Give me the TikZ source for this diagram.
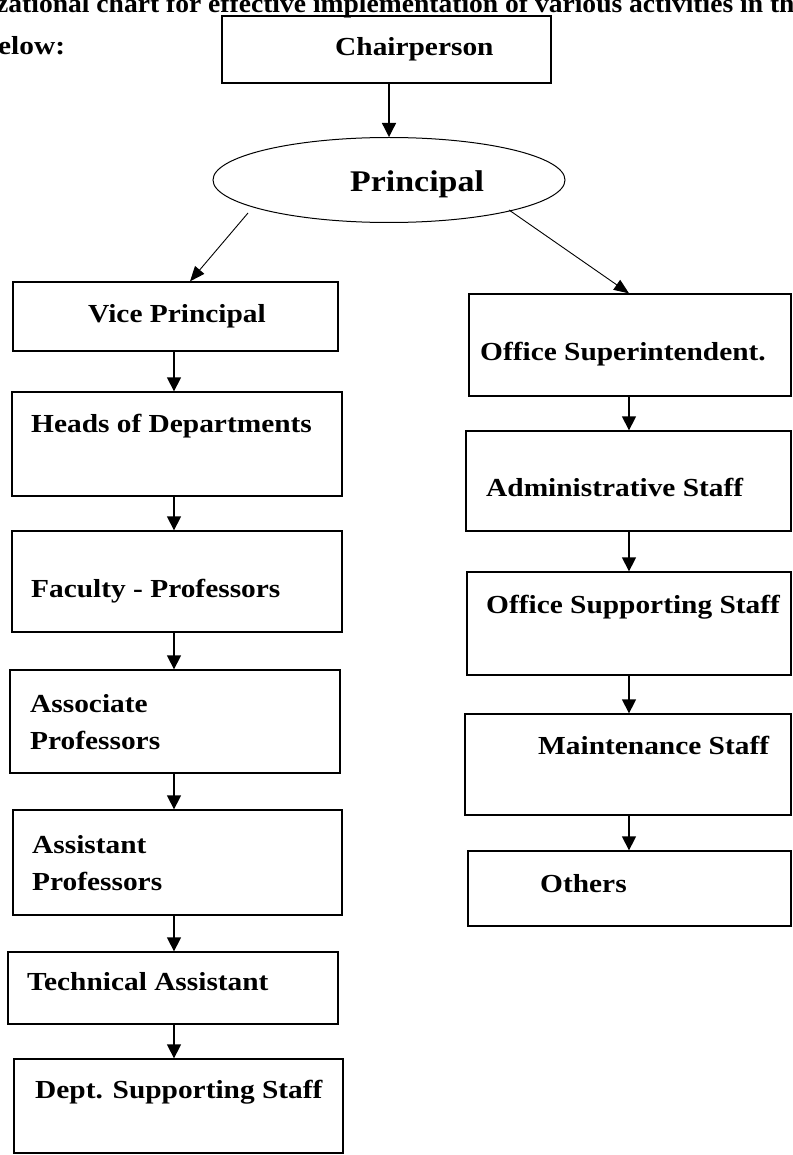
\documentclass[tikz,border=0pt]{standalone}
\usepackage{fontspec}
\setmainfont{Liberation Serif}[FakeStretch=1.13]
\newfontfamily\headfont{Liberation Serif}[FakeStretch=1.06]
\usetikzlibrary{arrows.meta,shapes.geometric}
\tikzset{
  box/.style={draw, rectangle, line width=1.3pt, inner sep=0pt},
  oval/.style={draw, ellipse, line width=1pt, inner sep=0pt},
  lbl/.style={anchor=base west, inner sep=0pt, font=\fontsize{26}{30}\selectfont\bfseries},
  arr/.style={line width=1.3pt, -{Triangle[length=14pt,width=14pt]}},
  darr/.style={line width=0.9pt, -{Triangle[length=15pt,width=12pt]}}
}
\begin{document}
\begin{tikzpicture}[x=1pt,y=-1pt]
\useasboundingbox (0,0) rectangle (792,1155);
\clip (0,0) rectangle (792,1155);
% heading fragments
\node[lbl, font=\headfont\fontsize{26}{30}\selectfont\bfseries] (title) at (-4,13) {zational chart for effective implementation of various activities in th};
\node[lbl] (below) at (-2,55) {elow:};
% boxes
\node[box, minimum width=329pt, minimum height=67pt] (chair) at (386.5,49.5) {};
\node[oval, minimum width=352pt, minimum height=85pt] (prin) at (389,180) {};
\node[box, minimum width=325pt, minimum height=69pt] (vice) at (175.5,316.5) {};
\node[box, minimum width=330pt, minimum height=104pt] (heads) at (177,444) {};
\node[box, minimum width=330pt, minimum height=101pt] (fac) at (177,581.5) {};
\node[box, minimum width=330pt, minimum height=103pt] (assoc) at (175,721.5) {};
\node[box, minimum width=329pt, minimum height=105pt] (asst) at (177.5,862.5) {};
\node[box, minimum width=330pt, minimum height=72pt] (tech) at (173,988) {};
\node[box, minimum width=329pt, minimum height=94pt] (dept) at (178.5,1106) {};
\node[box, minimum width=322pt, minimum height=102pt] (osup) at (630,345) {};
\node[box, minimum width=325pt, minimum height=100pt] (admin) at (628.5,481) {};
\node[box, minimum width=324pt, minimum height=103pt] (offsup) at (629,623.5) {};
\node[box, minimum width=326pt, minimum height=101pt] (maint) at (628,764.5) {};
\node[box, minimum width=323pt, minimum height=75pt] (others) at (629.5,888.5) {};
% labels
\node[lbl] (tchair) at (335,56) {Chairperson};
\node[lbl, font=\fontsize{30}{36}\selectfont\bfseries] (tprin) at (350,192) {Principal};
\node[lbl] (tvice) at (88,322) {Vice Principal};
\node[lbl] (theads) at (31,432) {Heads of Departments};
\node[lbl] (tfac) at (31,597) {Faculty - Professors};
\node[lbl] (tassoc1) at (30,712) {Associate};
\node[lbl] (tassoc2) at (30,749) {Professors};
\node[lbl] (tasst1) at (32,853) {Assistant};
\node[lbl] (tasst2) at (32,890) {Professors};
\node[lbl] (ttech) at (27,990) {Technical Assistant};
\node[lbl] (tdept) at (35,1098) {Dept. Supporting Staff};
\node[lbl] (tosup) at (480,360) {Office Superintendent.};
\node[lbl] (tadmin) at (486,496) {Administrative Staff};
\node[lbl] (toffsup) at (486,613) {Office Supporting Staff};
\node[lbl] (tmaint) at (538,754) {Maintenance Staff};
\node[lbl] (tothers) at (540,892) {Others};
% columns and connector points
\coordinate (colC) at (389,0);
\coordinate (colL) at (174,0);
\coordinate (colR) at (629,0);
\coordinate (pl) at (248,213);
\coordinate (tipL) at (190,0);
\coordinate (pr) at (509,210);
% connectors
\draw[arr] (chair.south -| colC) -- (prin.north);
\draw[darr] (pl) -- (vice.north -| tipL);
\draw[darr] (pr) -- (osup.north -| colR);
\draw[arr] (vice.south -| colL) -- (heads.north -| colL);
\draw[arr] (heads.south -| colL) -- (fac.north -| colL);
\draw[arr] (fac.south -| colL) -- (assoc.north -| colL);
\draw[arr] (assoc.south -| colL) -- (asst.north -| colL);
\draw[arr] (asst.south -| colL) -- (tech.north -| colL);
\draw[arr] (tech.south -| colL) -- (dept.north -| colL);
\draw[arr] (osup.south -| colR) -- (admin.north -| colR);
\draw[arr] (admin.south -| colR) -- (offsup.north -| colR);
\draw[arr] (offsup.south -| colR) -- (maint.north -| colR);
\draw[arr] (maint.south -| colR) -- (others.north -| colR);
\end{tikzpicture}
\end{document}
